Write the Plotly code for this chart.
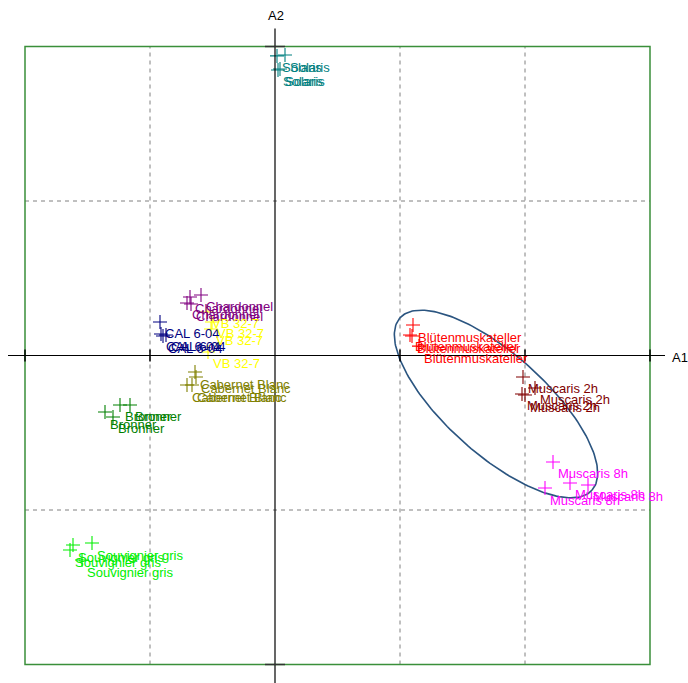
import numpy as np
import plotly.graph_objects as go

# ---- data (factor coordinates A1, A2) ----
groups = ["Solaris", "Chardonnel", "CAL 6-04", "VB 32-7", "Cabernet Blanc",
          "Bronner", "Souvignier gris", "Blütenmuskateller", "Muscaris 2h", "Muscaris 8h"]
colors = ["#008080", "#800080", "#000080", "#ffff00", "#808000",
          "#008000", "#00ee00", "#ff0000", "#800000", "#ff00ff"]

solaris_x = [0.016, 0.080, 0.024, 0.040]
solaris_y = [1.939, 1.945, 1.848, 1.854]
chardonnel_x = [-0.680, -0.592, -0.704, -0.672]
chardonnel_y = [0.379, 0.392, 0.340, 0.333]
cal_x = [-0.920, -0.912, -0.896, -0.872]
cal_y = [0.217, 0.139, 0.126, 0.133]
vb_x = [-0.544, -0.504, -0.512, -0.536]
vb_y = [0.282, 0.217, 0.172, 0.023]
cab_x = [-0.640, -0.632, -0.704, -0.664]
cab_y = [-0.107, -0.139, -0.191, -0.191]
bronner_x = [-1.360, -1.296, -1.240, -1.160]
bronner_y = [-0.366, -0.398, -0.320, -0.320]
souv_x = [-1.616, -1.464, -1.640, -1.544]
souv_y = [-1.227, -1.214, -1.259, -1.324]
blut_x = [1.104, 1.080, 1.096, 1.152]
blut_y = [0.197, 0.133, 0.126, 0.061]
m2_x = [1.984, 2.080, 1.976, 2.000]
m2_y = [-0.139, -0.210, -0.249, -0.256]
m8_x = [2.224, 2.360, 2.504, 2.160]
m8_y = [-0.689, -0.825, -0.838, -0.858]

xs = [solaris_x, chardonnel_x, cal_x, vb_x, cab_x, bronner_x, souv_x, blut_x, m2_x, m8_x]
ys = [solaris_y, chardonnel_y, cal_y, vb_y, cab_y, bronner_y, souv_y, blut_y, m2_y, m8_y]

# confidence ellipse (centre, semi-axes in px-equivalent, angle)
ell_cx, ell_cy = 1.768, -0.314
ell_a, ell_b, ell_angle = 129.0, 50.0, 41.9

x_grid = [-1, 1, 2]
y_grid = [-1, 1]
x_box = [-2, 3]
y_box = [-2, 2]

# ---- scales ----
PX_X = 125.0   # px per unit along A1
PX_Y = 154.5   # px per unit along A2
W, H = 688, 683
x0_px, y0_px = 275.0, 355.5
x_range = [-x0_px / PX_X, (W - x0_px) / PX_X]
y_range = [(y0_px - H) / PX_Y, y0_px / PX_Y]

fig = go.Figure()

# grid (dashed) inside box
for gx in x_grid:
    fig.add_shape(type="line", x0=gx, x1=gx, y0=y_box[0], y1=y_box[1],
                  line=dict(color="#808080", width=1, dash="4px,4px"), layer="below")
for gy in y_grid:
    fig.add_shape(type="line", y0=gy, y1=gy, x0=x_box[0], x1=x_box[1],
                  line=dict(color="#808080", width=1, dash="4px,4px"), layer="below")

# green frame
fig.add_shape(type="rect", x0=x_box[0], x1=x_box[1], y0=y_box[0], y1=y_box[1],
              line=dict(color="#3a8f3a", width=1.5), layer="below")

# axes
fig.add_shape(type="line", x0=x_range[0] + 8 / PX_X, x1=x_box[1] + 15 / PX_X, y0=0, y1=0,
              line=dict(color="black", width=1.2))
fig.add_shape(type="line", x0=0, x1=0, y0=y_range[0] - 0.1, y1=y_box[1] + 18 / PX_Y,
              line=dict(color="black", width=1.2))
# ticks on axes
for gx in x_grid + x_box:
    fig.add_shape(type="line", x0=gx, x1=gx, y0=-6 / PX_Y, y1=6 / PX_Y,
                  line=dict(color="black", width=1.5))
for gy in y_box:
    fig.add_shape(type="line", y0=gy, y1=gy, x0=-10 / PX_X, x1=10 / PX_X,
                  line=dict(color="#333333", width=1.5))

# ellipse
t = np.linspace(0, 2 * np.pi, 200)
th = np.deg2rad(ell_angle)
dxp = ell_a * np.cos(t) * np.cos(th) - ell_b * np.sin(t) * np.sin(th)
dyp = ell_a * np.cos(t) * np.sin(th) + ell_b * np.sin(t) * np.cos(th)
fig.add_trace(go.Scatter(x=ell_cx + dxp / PX_X, y=ell_cy - dyp / PX_Y, mode="lines",
                         line=dict(color="#2b5580", width=1.6), hoverinfo="skip"))

# points and labels
for name, col, gx, gy in zip(groups, colors, xs, ys):
    fig.add_trace(go.Scatter(x=gx, y=gy, mode="markers",
                             marker=dict(symbol="cross-thin", size=10,
                                         line=dict(color=col, width=1.1)),
                             hoverinfo="skip"))
    for xv, yv in zip(gx, gy):
        fig.add_annotation(x=xv, y=yv, text=name, showarrow=False,
                           xanchor="left", yanchor="middle", xshift=3, yshift=-12,
                           font=dict(family="Liberation Sans, Arial", size=13, color=col))

fig.add_annotation(x=x_box[1] + 30 / PX_X, y=0, text="A1", showarrow=False,
                   xanchor="center", yanchor="middle", yshift=-2,
                   font=dict(family="Liberation Sans, Arial", size=13, color="black"))
fig.add_annotation(x=0, y=y_box[1] + 32 / PX_Y, text="A2", showarrow=False,
                   xanchor="center", yanchor="middle", xshift=1, yshift=-1,
                   font=dict(family="Liberation Sans, Arial", size=13, color="black"))

fig.update_layout(
    width=W, height=H, margin=dict(l=0, r=0, t=0, b=0),
    paper_bgcolor="white", plot_bgcolor="white", showlegend=False,
    xaxis=dict(range=x_range, visible=False, fixedrange=True),
    yaxis=dict(range=y_range, visible=False, fixedrange=True),
)

fig.write_html("out.html", config={"displayModeBar": False})
